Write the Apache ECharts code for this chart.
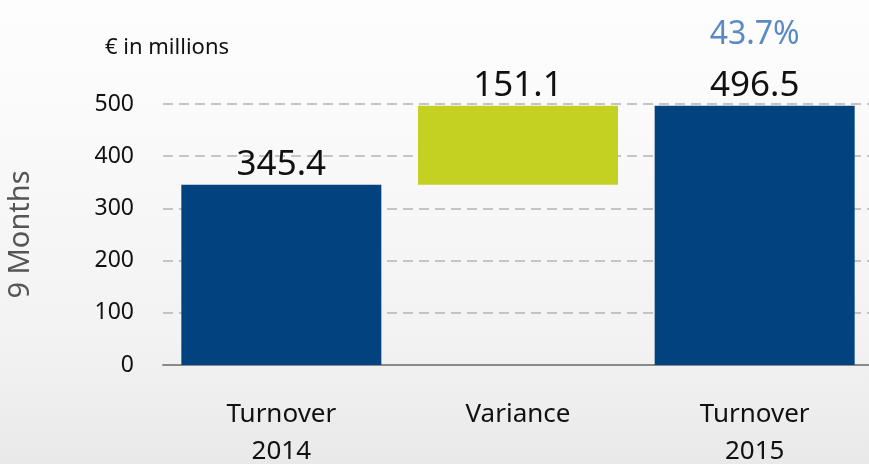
<!DOCTYPE html>
<html>
<head>
<meta charset="utf-8">
<script src="https://cdn.jsdelivr.net/npm/echarts@6/dist/echarts.min.js"></script>
<style>
  html, body { margin: 0; padding: 0; }
  #chart {
    width: 869px;
    height: 464px;
    background: linear-gradient(to bottom, #fdfdfd 0%, #fbfbfb 20%, #f2f2f2 75%, #e9e9e9 100%);
  }
</style>
</head>
<body>
<div id="chart"></div>
<script>
// chart data
const categories = ['Turnover\n2014', 'Variance', 'Turnover\n2015']
const baseValues = [0, 345.4, 0]
const barValues = [345.4, 151.1, 496.5]
const changeLabels = ['', '', '43.7%']
const yTicks = [0, 100, 200, 300, 400, 500]

const barColors = ['#02437f', '#c4d022', '#02437f']
const font = 'Noto Sans'

const chart = echarts.init(document.getElementById('chart'))
chart.setOption({
  animation: false,
  textStyle: { fontFamily: font },
  title: {
    text: '€ in millions',
    left: 100,
    top: 32,
    textStyle: { fontFamily: font, fontSize: 22, fontWeight: 'normal', color: '#111' }
  },
  grid: { left: 163, right: -4, top: 104, bottom: 99, containLabel: false, outerBoundsMode: 'none' },
  xAxis: {
    type: 'category',
    data: categories,
    axisTick: { show: false },
    axisLine: { lineStyle: { color: '#8a8a8a', width: 2 } },
    axisLabel: { fontSize: 26, color: '#111', lineHeight: 37, margin: 31 }
  },
  yAxis: {
    type: 'value',
    min: yTicks[0],
    max: yTicks[yTicks.length - 1],
    interval: 100,
    name: '9 Months',
    nameLocation: 'middle',
    nameRotate: 90,
    nameGap: 128,
    nameTextStyle: { fontSize: 29, color: '#555' },
    axisLine: { show: false },
    axisTick: { show: false },
    axisLabel: { fontSize: 23, color: '#111', margin: 29 },
    splitLine: { lineStyle: { color: '#c4c4c4', width: 2, type: [10, 6] } }
  },
  series: [
    {
      type: 'bar',
      stack: 'wf',
      barWidth: 200,
      silent: true,
      itemStyle: { color: 'transparent' },
      data: baseValues
    },
    {
      type: 'bar',
      stack: 'wf',
      barWidth: 200,
      data: barValues.map((v, i) => ({ value: v, itemStyle: { color: barColors[i] } })),
      label: {
        show: true,
        position: 'top',
        distance: 1,
        formatter: p => {
          const c = changeLabels[p.dataIndex]
          return (c ? '{p|' + c + '}\n' : '') + '{v|' + p.value + '}'
        },
        rich: {
          v: { fontSize: 35, color: '#111', fontFamily: font, lineHeight: 38 },
          p: { fontSize: 32, color: '#5a89c4', fontFamily: font, lineHeight: 48, verticalAlign: 'top' }
        }
      }
    }
  ]
})
</script>
</body>
</html>
